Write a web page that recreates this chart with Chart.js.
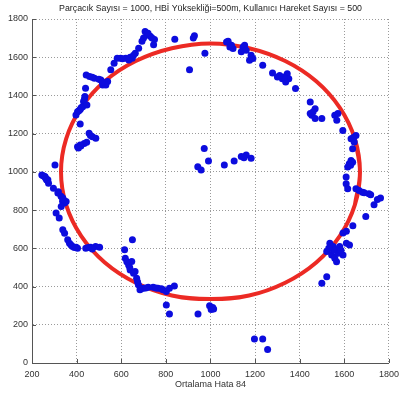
<!DOCTYPE html>
<html>
<head>
<meta charset="utf-8">
<script src="https://cdn.jsdelivr.net/npm/chart.js@4/dist/chart.umd.min.js"></script>
<style>
  html, body { margin: 0; padding: 0; background: #fff; }
  canvas { display: block; }
</style>
</head>
<body>
<canvas id="c" width="405" height="398"></canvas>
<script>
// Reference trajectory (true path of the user), points around the ring
const pathX = [1647, 1670, 1647, 1580, 1474, 1335, 1173, 1000, 827, 665, 526, 420, 353, 330,
               353, 420, 526, 665, 827, 1000, 1173, 1335, 1474, 1580, 1647, 1670, 1647];
const pathY = [827, 1000, 1173, 1335, 1474, 1580, 1647, 1672, 1647, 1580, 1474, 1335, 1173, 1000,
               827, 665, 526, 420, 353, 335, 353, 420, 526, 665, 827, 1000, 1173];

// Particle-filter position estimates
const estX = [
  707, 715, 700, 730, 749, 745, 693, 720, 738,
  678, 663, 649, 634, 620, 597, 582, 568, 553, 605, 640, 655,
  840, 928, 923, 975, 906,
  443, 458, 480, 509, 524, 539, 517, 531, 470, 500, 515,
  440,
  437, 431, 427, 416, 404, 397, 446, 420, 435, 410,
  416,
  404, 416, 434, 456, 471, 486, 419, 408, 445, 462,
  303,
  244, 259, 266, 274, 296, 318, 256, 271, 250, 262, 330, 337, 338, 353, 346, 331, 308, 322, 316, 340,
  338, 346, 360, 368, 382, 404, 390, 441, 463, 485, 503, 470, 375, 398, 452,
  650, 615, 618, 633, 647, 640, 662, 669, 677, 684, 699, 721, 743, 765, 787, 802, 816, 838,
  802, 816, 944, 625, 638, 655, 673, 690, 710, 755, 780,
  996, 1010, 1003, 1014,
  1197, 1234, 1256,
  972, 943, 958, 991, 1062, 1106, 1138, 1160, 1182, 1150,
  1072, 1087, 1101, 1094, 1146, 1153, 1138, 1160, 1182, 1190, 1175, 1079,
  1234, 1278, 1300, 1322, 1344, 1351, 1337, 1329, 1310, 1381,
  1447, 1469, 1454, 1469, 1499, 1447, 1460,
  1557, 1571, 1566, 1593,
  1630, 1652, 1644, 1637, 1640,
  1630, 1622, 1637, 1615, 1628,
  1608, 1608, 1615, 1652, 1666, 1681, 1710, 1689, 1718, 1748, 1762, 1733, 1696,
  1638, 1609, 1594,
  1535, 1550, 1565, 1521, 1543, 1557, 1579, 1609, 1623, 1594, 1572, 1550, 1565, 1530, 1585,
  1521, 1499
];
const estY = [
  1735, 1718, 1700, 1710, 1693, 1665, 1683, 1725, 1700,
  1647, 1621, 1595, 1586, 1595, 1595, 1595, 1569, 1534, 1592, 1600, 1610,
  1694, 1712, 1700, 1621, 1534,
  1507, 1499, 1490, 1481, 1464, 1473, 1455, 1455, 1495, 1485, 1470,
  1437,
  1394, 1368, 1341, 1327, 1315, 1298, 1350, 1335, 1380, 1320,
  1251,
  1132, 1141, 1149, 1202, 1184, 1176, 1136, 1125, 1155, 1190,
  1036,
  984, 975, 958, 941, 914, 896, 976, 959, 980, 965, 872, 846, 863, 845, 837, 819, 785, 759, 889, 855,
  697, 679, 645, 627, 610, 601, 604, 601, 606, 610, 606, 596, 618, 606, 604,
  645, 592, 548, 513, 531, 487, 479, 444, 409, 383, 391, 396, 396, 391, 383, 374, 391, 403,
  304, 257, 257, 530, 500, 470, 425, 390, 393, 392, 388,
  300, 290, 280, 282,
  126, 126, 70,
  1123, 1027, 1010, 1057, 1036, 1057, 1080, 1088, 1071, 1074,
  1680, 1654, 1645, 1663, 1654, 1663, 1628, 1636, 1610, 1593, 1584, 1683,
  1558, 1518, 1497, 1488, 1514, 1488, 1471, 1497, 1505, 1436,
  1366, 1331, 1296, 1279, 1279, 1305, 1315,
  1296, 1305, 1270, 1217,
  1174, 1191, 1156, 1121, 1180,
  1060, 1043, 1051, 1025, 1035,
  973, 938, 912, 912, 903, 894, 885, 891, 881, 855, 863, 828, 767,
  718, 689, 680,
  627, 610, 592, 583, 565, 548, 610, 627, 618, 565, 574, 592, 530, 600, 590,
  451, 417
];

const titleText = 'Parçacık Sayısı = 1000, HBİ Yüksekliği=500m, Kullanıcı Hareket Sayısı = 500';
const xLabel = 'Ortalama Hata 84';

const pathData = pathX.map((x, i) => ({ x, y: pathY[i] }));
const estData = estX.map((x, i) => ({ x, y: estY[i] }));

const FONT = "'Liberation Sans', Arial, sans-serif";
const plainTick = v => String(v);

// Title centred above the plot box
const titlePlugin = {
  id: 'plotTitle',
  afterDraw(chart) {
    const { ctx, chartArea } = chart;
    ctx.save();
    ctx.font = '8.8px ' + FONT;
    ctx.fillStyle = '#222';
    ctx.textAlign = 'center';
    ctx.textBaseline = 'middle';
    ctx.fillText(titleText, (chartArea.left + chartArea.right) / 2, 9);
    ctx.restore();
  }
};

// Short inward tick marks along the left and bottom axes
const innerTicks = {
  id: 'innerTicks',
  afterDatasetsDraw(chart) {
    const { ctx, chartArea, scales } = chart;
    ctx.save();
    ctx.strokeStyle = '#555';
    ctx.lineWidth = 1;
    ctx.beginPath();
    scales.x.ticks.forEach(t => {
      const px = Math.round(scales.x.getPixelForValue(t.value)) + 0.5;
      ctx.moveTo(px, chartArea.bottom);
      ctx.lineTo(px, chartArea.bottom - 4);
    });
    scales.y.ticks.forEach(t => {
      const py = Math.round(scales.y.getPixelForValue(t.value)) + 0.5;
      ctx.moveTo(chartArea.left, py);
      ctx.lineTo(chartArea.left + 4, py);
    });
    ctx.stroke();
    ctx.restore();
  }
};

new Chart(document.getElementById('c'), {
  type: 'scatter',
  data: {
    datasets: [
      {
        label: 'estimate',
        data: estData,
        pointRadius: 3.5,
        pointBorderWidth: 0,
        backgroundColor: 'rgb(12,12,222)',
        borderColor: 'rgb(12,12,222)',
        order: 1
      },
      {
        label: 'path',
        data: pathData,
        showLine: true,
        tension: 0.4,
        borderColor: 'rgb(236,42,36)',
        borderWidth: 4,
        pointRadius: 0,
        order: 2
      }
    ]
  },
  options: {
    responsive: false,
    animation: false,
    layout: { padding: { left: 0, right: 10, top: 19, bottom: 0 } },
    plugins: {
      legend: { display: false },
      tooltip: { enabled: false },
      title: { display: false }
    },
    scales: {
      x: {
        type: 'linear',
        min: 200, max: 1800,
        ticks: { stepSize: 200, padding: 6, color: '#333', font: { family: FONT, size: 9 }, callback: plainTick },
        grid: { color: '#9a9a9a', drawTicks: false, lineWidth: 1 },
        border: { display: true, color: '#555', width: 1, dash: [1, 2] },
        title: { display: true, text: xLabel, color: '#333', font: { family: FONT, size: 9 }, padding: { top: 0, bottom: 8 } },
        afterFit(scale) { scale.height = 35; }
      },
      y: {
        type: 'linear',
        min: 0, max: 1800,
        ticks: { stepSize: 200, padding: 4, color: '#333', font: { family: FONT, size: 9 }, callback: plainTick },
        grid: { color: '#9a9a9a', drawTicks: false, lineWidth: 1 },
        border: { display: true, color: '#555', width: 1, dash: [1, 2] },
        afterFit(scale) { scale.width = 32; }
      }
    }
  },
  plugins: [titlePlugin, innerTicks]
});
</script>
</body>
</html>
